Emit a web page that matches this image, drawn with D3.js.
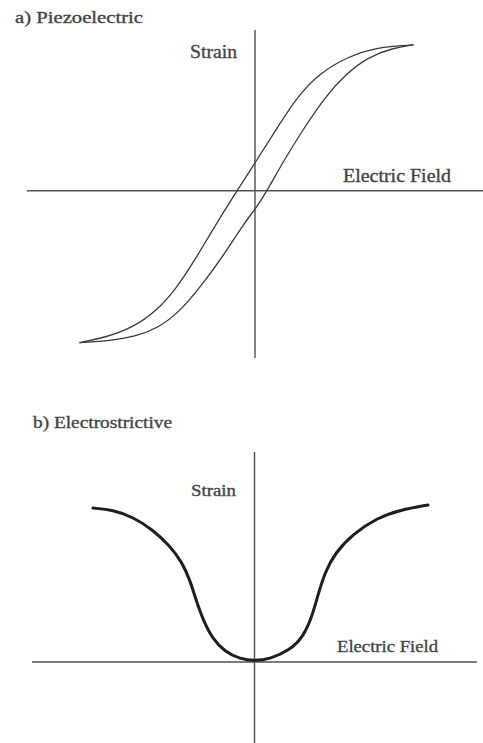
<!DOCTYPE html>
<html>
<head>
<meta charset="utf-8">
<script src="https://cdn.jsdelivr.net/npm/d3@7"></script>
<style>
  html, body { margin: 0; padding: 0; background: #fff; }
  svg { display: block; }
  text { font-family: "Liberation Serif", "DejaVu Serif", serif; fill: #454545; stroke: #454545; stroke-width: 0.35px; }
</style>
</head>
<body>
<svg id="chart" width="483" height="743"></svg>
<script>
// ---------- Data (normalized field / strain units) ----------
// Panel a) Piezoelectric: hysteresis loop (two branches)
const piezoUpperField  = [-0.768, -0.658, -0.535, -0.430, -0.346, -0.268, -0.175, -0.079, 0.000, 0.092, 0.184, 0.285, 0.404, 0.535, 0.693];
const piezoUpperStrain = [-0.944, -0.913, -0.851, -0.745, -0.609, -0.441, -0.217, 0.000, 0.174, 0.379, 0.584, 0.733, 0.832, 0.894, 0.907];
const piezoLowerField  = [-0.768, -0.636, -0.526, -0.430, -0.333, -0.232, -0.136, -0.044, 0.000, 0.053, 0.123, 0.215, 0.311, 0.399, 0.496, 0.605, 0.693];
const piezoLowerStrain = [-0.944, -0.932, -0.907, -0.857, -0.758, -0.584, -0.398, -0.193, -0.118, 0.000, 0.180, 0.391, 0.590, 0.727, 0.832, 0.888, 0.907];

// Panel b) Electrostrictive: strain vs field
const electroField  = [-0.726, -0.636, -0.546, -0.456, -0.380, -0.326, -0.290, -0.263, -0.231, -0.191, -0.133, -0.065, 0.000, 0.070, 0.160, 0.218, 0.258, 0.285, 0.317, 0.362, 0.443, 0.551, 0.654, 0.780];
const electroStrain = [0.733, 0.724, 0.690, 0.629, 0.552, 0.476, 0.390, 0.295, 0.200, 0.114, 0.048, 0.014, 0.005, 0.014, 0.057, 0.119, 0.214, 0.319, 0.428, 0.519, 0.610, 0.686, 0.724, 0.748];

// Axis extents (data units)
const piezoFieldExtent  = [-1, 1];
const piezoStrainExtent = [-1.04, 1];
const electroFieldExtent  = [-1, 1];
const electroStrainExtent = [-0.386, 1];

// Text
const titles = ["a) Piezoelectric", "b) Electrostrictive"];
const yLabel = "Strain";
const xLabel = "Electric Field";

// ---------- Drawing ----------
const svg = d3.select("#chart");
const zip = (xs, ys) => xs.map((x, i) => [x, ys[i]]);

function panel(cfg) {
  const x = d3.scaleLinear().domain(cfg.xExt).range(cfg.xRange);
  const y = d3.scaleLinear().domain(cfg.yExt).range(cfg.yRange);
  const g = svg.append("g");

  // axes crossing at the origin
  g.append("line")
    .attr("x1", x(cfg.xExt[0])).attr("x2", x(cfg.xExt[1]))
    .attr("y1", y(0)).attr("y2", y(0))
    .attr("stroke", "#505050").attr("stroke-width", 1.4);
  g.append("line")
    .attr("x1", x(0)).attr("x2", x(0))
    .attr("y1", y(cfg.yExt[0])).attr("y2", y(cfg.yExt[1]))
    .attr("stroke", "#505050").attr("stroke-width", 1.4);

  const line = d3.line()
    .x(d => x(d[0])).y(d => y(d[1]))
    .curve(d3.curveBasis);

  cfg.series.forEach(s => {
    g.append("path")
      .attr("d", line(s.data))
      .attr("fill", "none")
      .attr("stroke", s.color)
      .attr("stroke-width", s.width)
      .attr("stroke-linecap", "round")
      .attr("stroke-linejoin", "round");
  });

  cfg.texts.forEach(t => {
    g.append("text")
      .attr("x", t.x).attr("y", t.y)
      .attr("font-size", t.size)
      .attr("textLength", t.len)
      .attr("lengthAdjust", "spacingAndGlyphs")
      .text(t.text);
  });
}

panel({
  xExt: piezoFieldExtent, yExt: piezoStrainExtent,
  xRange: [27, 483], yRange: [358, 30],
  series: [
    { data: zip(piezoUpperField, piezoUpperStrain), color: "#3a3a3a", width: 1.3 },
    { data: zip(piezoLowerField, piezoLowerStrain), color: "#3a3a3a", width: 1.3 }
  ],
  texts: [
    { text: titles[0], x: 15, y: 23, size: 16, len: 128 },
    { text: yLabel, x: 190, y: 58, size: 18, len: 47 },
    { text: xLabel, x: 343, y: 182, size: 18, len: 108 }
  ]
});

panel({
  xExt: electroFieldExtent, yExt: electroStrainExtent,
  xRange: [32, 477], yRange: [743, 452],
  series: [
    { data: zip(electroField, electroStrain), color: "#1e1e1e", width: 3 }
  ],
  texts: [
    { text: titles[1], x: 33, y: 428, size: 16, len: 139 },
    { text: yLabel, x: 191, y: 496, size: 16, len: 45 },
    { text: xLabel, x: 337, y: 652, size: 17, len: 101 }
  ]
});
</script>
</body>
</html>
